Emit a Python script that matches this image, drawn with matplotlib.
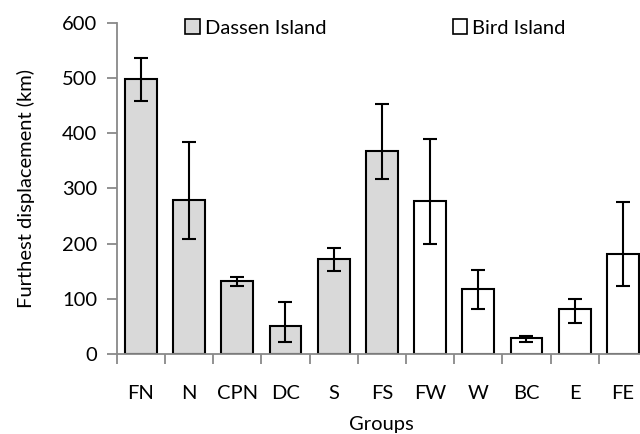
import matplotlib.pyplot as plt
from matplotlib.patches import Patch

plt.rcParams['font.family'] = ['Lato', 'DejaVu Sans']

# Dados
grupos = ['FN', 'N', 'CPN', 'DC', 'S', 'FS', 'FW', 'W', 'BC', 'E', 'FE']
medias = [498, 279, 132, 51, 172, 368, 277, 117, 29, 81, 182]
erro_sup = [536, 385, 139, 95, 193, 453, 390, 152, 33, 99, 275]
erro_inf = [459, 209, 124, 22, 151, 317, 199, 82, 22, 56, 123]
ilha = ['Dassen', 'Dassen', 'Dassen', 'Dassen', 'Dassen', 'Dassen',
        'Bird', 'Bird', 'Bird', 'Bird', 'Bird']

cores = {'Dassen': '#d9d9d9', 'Bird': '#ffffff'}
cinza = '#898989'
fs = 14.5

fig = plt.figure(figsize=(6.4, 4.34), dpi=100)
ax = fig.add_axes([116.7 / 640, 80 / 434, (647 - 116.7) / 640, (354 - 23) / 434])

x = list(range(len(grupos)))
yerr = [[m - lo for m, lo in zip(medias, erro_inf)],
        [hi - m for m, hi in zip(medias, erro_sup)]]
ax.bar(x, medias, width=0.66, color=[cores[i] for i in ilha],
       edgecolor='black', linewidth=1.5, zorder=2)
ax.errorbar(x, medias, yerr=yerr, fmt='none', ecolor='black',
            elinewidth=1.5, capsize=5, capthick=1.5, zorder=3)

ax.set_xlim(-0.5, len(grupos) - 0.5)
ax.set_ylim(0, 600)
ax.set_yticks(range(0, 601, 100))
ax.set_xticks(x)
ax.set_xticklabels(grupos)
ax.set_xticks([i - 0.5 for i in range(len(grupos) + 1)], minor=True)

for lado in ['top', 'right']:
    ax.spines[lado].set_visible(False)
for lado in ['left', 'bottom']:
    ax.spines[lado].set_color(cinza)
    ax.spines[lado].set_linewidth(1.3)

ax.tick_params(axis='x', which='major', length=0, pad=22, labelsize=fs)
ax.tick_params(axis='x', which='minor', length=7, width=1.3, color=cinza)
ax.tick_params(axis='y', length=7, width=1.3, color=cinza, pad=7, labelsize=fs)

ax.set_xlabel('Groups', fontsize=fs)
ax.set_ylabel('Furthest displacement (km)', fontsize=fs)
ax.xaxis.set_label_coords(0.5, -0.188)
ax.yaxis.set_label_coords(-0.155, 0.5)

handles = [Patch(facecolor='#d9d9d9', edgecolor='black', linewidth=1.2),
           Patch(facecolor='white', edgecolor='black', linewidth=1.2)]
fig.legend(handles, ['Dassen Island', 'Bird Island'], ncol=2, frameon=False,
           loc='center left', bbox_to_anchor=(185 / 640, 1 - 28 / 434),
           fontsize=fs, handlelength=0.72, handleheight=0.72, handletextpad=0.25,
           columnspacing=6.3, borderaxespad=0, borderpad=0)

fig.savefig('out.png', dpi=100)
